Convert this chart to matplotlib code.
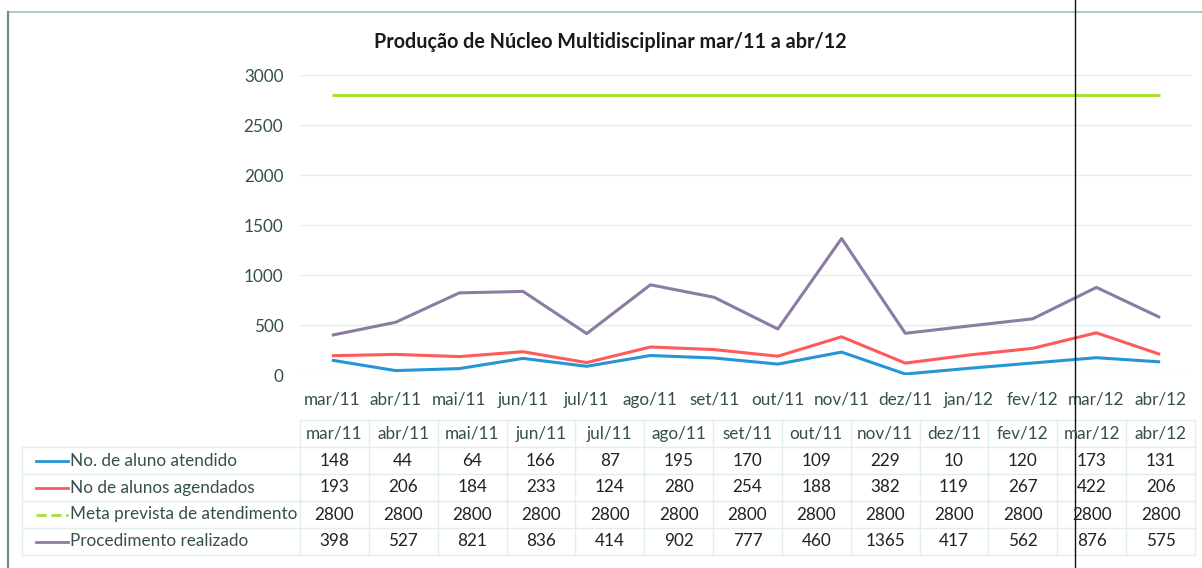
import matplotlib.pyplot as plt
from matplotlib.lines import Line2D

plt.rcParams['font.family'] = ['Lato', 'DejaVu Sans']

# dados do gráfico (14 meses)
meses = ['mar/11', 'abr/11', 'mai/11', 'jun/11', 'jul/11', 'ago/11', 'set/11',
         'out/11', 'nov/11', 'dez/11', 'jan/12', 'fev/12', 'mar/12', 'abr/12']
atendido = [148, 44, 64, 166, 87, 195, 170, 109, 229, 10, 67, 120, 173, 131]
agendados = [193, 206, 184, 233, 124, 280, 254, 188, 382, 119, 200, 267, 422, 206]
meta = [2800] * 14
procedimento = [398, 527, 821, 836, 414, 902, 777, 460, 1365, 417, 490, 562, 876, 575]

# tabela de dados (sem jan/12, como no original)
meses_tab = ['mar/11', 'abr/11', 'mai/11', 'jun/11', 'jul/11', 'ago/11', 'set/11',
             'out/11', 'nov/11', 'dez/11', 'fev/12', 'mar/12', 'abr/12']
tab_atendido = [148, 44, 64, 166, 87, 195, 170, 109, 229, 10, 120, 173, 131]
tab_agendados = [193, 206, 184, 233, 124, 280, 254, 188, 382, 119, 267, 422, 206]
tab_meta = [2800] * 13
tab_procedimento = [398, 527, 821, 836, 414, 902, 777, 460, 1365, 417, 562, 876, 575]

nomes = ['No. de aluno atendido', 'No de alunos agendados',
         'Meta prevista de atendimento', 'Procedimento realizado']
cores = ['#2595d3', '#ff5a5a', '#a8e03a', '#8c7ba2']
yticks = [0, 500, 1000, 1500, 2000, 2500, 3000]

W, H = 1202, 568
txt = '#34504a'
grade = '#e0efe9'
fs = 12.3

fig = plt.figure(figsize=(W / 100, H / 100), dpi=100)


def fx(x):
    return x / W


def fy(y):
    return 1 - y / H


# área do gráfico
ax = fig.add_axes([fx(300), fy(375), 892 / W, 300 / H])
x = range(len(meses))
for serie, cor in zip([atendido, agendados, meta, procedimento], cores):
    ax.plot(x, serie, color=cor, lw=2.2, solid_capstyle='butt')
ax.set_xlim(-0.5, len(meses) - 0.5)
ax.set_ylim(0, 3000)
ax.set_yticks(yticks)
ax.set_xticks(list(x))
ax.set_xticklabels(meses)
ax.tick_params(length=0, labelsize=fs, colors=txt)
ax.tick_params(axis='x', pad=12)
ax.tick_params(axis='y', pad=12)
ax.grid(axis='y', color='#e6eeeb', lw=1)
ax.set_axisbelow(True)
for s in ax.spines.values():
    s.set_visible(False)

fig.text(fx(610), fy(42), 'Produção de Núcleo Multidisciplinar mar/11 a abr/12',
         ha='center', va='center', fontsize=14.2, fontweight='bold', color='#1a1a1a')

# tabela
x0, x1 = 300, 1195
cw = (x1 - x0) / len(meses_tab)
top, rh = 420, 27
for i, m in enumerate(meses_tab):
    fig.text(fx(x0 + cw * (i + 0.5)), fy(top + rh / 2), m, ha='center', va='center',
             fontsize=fs, color=txt)
linhas = [tab_atendido, tab_agendados, tab_meta, tab_procedimento]
for r, (vals, nome, cor) in enumerate(zip(linhas, nomes, cores)):
    yc = top + rh * (r + 1.5)
    fig.add_artist(Line2D([fx(36), fx(68)], [fy(yc), fy(yc)], color=cor, lw=2,
                          ls='--' if r == 2 else '-', transform=fig.transFigure))
    fig.text(fx(70), fy(yc), nome, ha='left', va='center', fontsize=fs, color=txt)
    for i, v in enumerate(vals):
        fig.text(fx(x0 + cw * (i + 0.5)), fy(yc), str(v), ha='center', va='center',
                 fontsize=fs, color='#222222')

# linhas da tabela
for k in range(6):
    yl = top + rh * k
    xa = x0 if k == 0 else 22
    fig.add_artist(Line2D([fx(xa), fx(x1)], [fy(yl), fy(yl)], color=grade, lw=1,
                          transform=fig.transFigure))
for i in range(len(meses_tab) + 1):
    xv = x0 + cw * i
    fig.add_artist(Line2D([fx(xv), fx(xv)], [fy(top), fy(top + rh * 5)], color=grade,
                          lw=1, transform=fig.transFigure))
fig.add_artist(Line2D([fx(22), fx(22)], [fy(top + rh), fy(top + rh * 5)], color=grade,
                      lw=1, transform=fig.transFigure))

# moldura e traço vertical do scan
fig.add_artist(Line2D([fx(8), fx(W)], [fy(12), fy(12)], color='#9fbfb6', lw=1.2,
                      transform=fig.transFigure))
fig.add_artist(Line2D([fx(8), fx(8)], [fy(12), fy(H)], color='#6f8f86', lw=1.6,
                      transform=fig.transFigure))
fig.add_artist(Line2D([fx(1075), fx(1075)], [fy(0), fy(H)], color='#111111', lw=1,
                      transform=fig.transFigure))

fig.savefig('out.png', dpi=100)
